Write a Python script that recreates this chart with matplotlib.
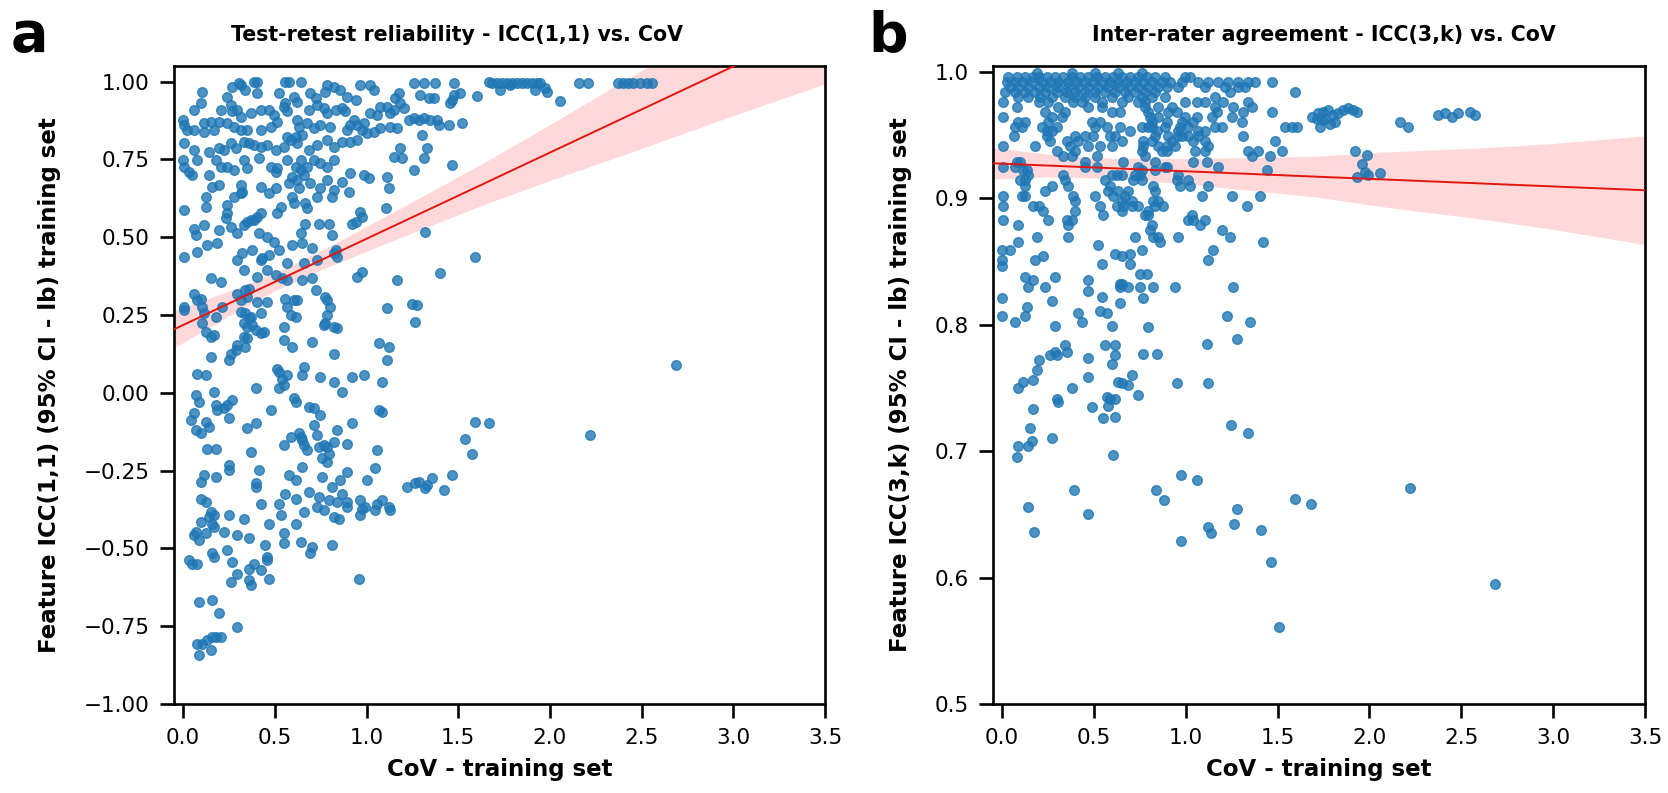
import matplotlib
matplotlib.use("Agg")
import matplotlib.pyplot as plt
import numpy as np

# panel a: CoV vs ICC(1,1) lower bound
cov_a = [0.104, 0.268, 0.304, 0.313, 0.386, 0.404, 0.404, 0.558, 0.576, 0.640, 0.522, 0.340, 0.785, 0.822, 0.858, 0.967, 1.021, 1.040, 0.776, 0.694, 0.722, 1.257, 1.312, 1.375, 1.475, 1.666, 1.475, 1.511, 1.602, 1.176, 1.157, 1.294, 1.339, 1.366, 0.894, 0.940, 0.604, 0.622, 0.241, 0.095, 0.059,
         0.000, 0.005, 0.023, 0.059, 0.113, 0.150, 0.195, 0.204, 0.259, 0.268, 0.295, 0.313, 0.368, 0.422, 0.468, 0.495, 0.549, 0.558, 0.567, 0.622, 0.631, 0.685, 0.731, 0.767, 0.785, 0.831, 0.867, 0.885, 0.930, 0.985, 1.021, 1.058, 1.076, 1.112, 1.130, 1.148, 1.185, 1.203, 1.230, 1.257, 1.284, 1.312, 1.348, 1.384, 1.393, 1.448, 1.521, 1.457, 1.466, 0.976, 1.003, 1.040, 1.076, 1.130, 1.166, 0.894, 0.912, 0.949, 0.803, 0.749, 0.713, 0.676, 0.513, 0.477, 0.422, 0.350, 0.313, 0.241, 0.277, 0.168, 0.113, 1.303, 1.185, 1.148, 1.194, 1.312, 1.330, 1.257, 1.466,
         0.005, 0.059, 0.141, 0.195, 0.222, 0.259, 0.286, 0.331, 0.359, 0.386, 0.422, 0.459, 0.504, 0.549, 0.586, 0.622, 0.649, 0.685, 0.731, 0.785, 0.822, 0.867, 0.912, 0.949, 0.613, 0.567,
         0.000, 0.005, 0.032, 0.050, 0.077, 0.141, 0.177, 0.204, 0.241, 0.277, 0.331, 0.350, 0.413, 0.477, 0.513, 0.504, 0.567, 0.613, 0.640, 0.676, 0.713, 0.749, 0.785, 0.822, 0.640, 0.658, 0.595, 0.576, 0.622, 0.631, 0.694, 0.749, 0.785, 0.822, 0.867, 0.912, 0.985, 1.012, 1.112, 1.121, 0.903, 0.595, 0.504, 0.468, 0.422, 0.313, 0.322, 0.277, 0.195, 0.159, 0.123,
         0.005, 0.123, 0.241, 0.241, 0.232, 0.313, 0.386, 0.404, 0.422, 0.331, 0.295, 0.513, 0.531, 0.604, 0.667, 0.676, 0.731, 0.812, 0.967, 0.976, 0.940, 1.108, 0.059, 0.068, 0.113, 0.195, 0.259, 0.368, 0.350, 0.667, 0.740, 0.794, 0.812, 0.921,
         0.005, 0.077, 0.132, 0.186, 0.295, 0.322, 0.377, 0.413, 0.459, 0.495, 0.522, 0.422, 0.431, 0.468, 0.595, 0.640, 0.649, 0.567, 0.658, 0.704, 0.731, 0.831, 0.840, 0.822, 0.949, 0.976, 1.166, 1.321, 1.402, 1.593, 0.331,
         0.150, 0.204, 0.059, 0.095, 0.077, 0.104, 0.113, 0.005, 0.005, 0.295, 0.340, 0.359, 0.350, 0.313, 0.404, 0.459, 0.504, 0.540, 0.567, 0.649, 0.704, 0.722, 0.776, 0.785, 0.803, 0.604, 0.622, 0.558, 0.567, 0.404, 0.459, 0.213, 0.177, 0.313, 0.340, 0.359, 0.368, 0.422, 0.586, 0.613, 0.785, 0.776, 0.822, 0.840, 1.112, 1.248, 1.275, 1.266,
         0.104, 0.123, 0.150, 0.168, 0.331, 0.350, 0.377, 0.395, 0.331, 0.422, 0.440, 0.549, 0.549, 0.595, 0.704, 0.767, 0.822, 0.340, 0.350, 0.295, 0.286, 0.259, 0.250, 0.150, 0.077, 0.123, 0.513, 0.522, 0.540, 0.567, 0.658, 0.649, 0.749, 0.822, 0.921, 0.985, 1.067, 1.121, 1.112, 1.085, 0.522, 0.549, 0.395,
         0.168, 0.068, 0.086, 0.041, 0.059, 0.068, 0.095, 0.123, 0.141, 0.177, 0.186, 0.222, 0.241, 0.268, 0.250, 0.350, 0.395, 0.477, 0.604, 0.613, 0.685, 0.713, 0.749, 0.713, 0.631, 0.649, 0.658, 0.676, 0.586, 0.549, 0.640, 0.731, 0.740, 0.767, 0.785, 0.794, 0.758, 0.785, 0.822, 0.840, 0.894, 0.921, 0.867, 1.067, 1.085, 1.058, 1.048, 1.003,
         0.132, 0.177, 0.368, 0.250, 0.250, 0.113, 0.095, 0.180, 0.395, 0.395, 0.413, 0.576, 0.613, 0.649, 0.758, 0.812, 0.858, 0.894, 0.558, 0.613, 0.685, 0.740, 0.794, 0.840, 0.867, 0.894, 0.894, 0.967, 0.976, 0.967, 0.994, 1.058, 1.085, 1.121, 1.130, 1.048, 0.731, 0.767, 0.822, 0.849, 0.658, 0.613, 0.531, 0.522, 0.468, 0.422,
         0.095, 0.123, 0.150, 0.141, 0.168, 0.168, 0.159, 0.095, 0.068, 0.059, 0.086, 0.123, 0.222, 0.250, 0.331, 0.295, 0.359, 0.449, 0.549, 0.549, 0.640, 0.704, 0.694, 0.812, 0.159, 0.168, 0.241, 0.268, 0.295, 0.259, 0.359, 0.386, 0.422, 0.359, 0.368, 0.459, 0.459, 0.468, 0.032, 0.050, 0.077, 0.958,
         0.086, 0.159, 0.195, 0.295, 0.077, 0.104, 0.132, 0.159, 0.177, 0.204, 0.150, 0.086,
         1.221, 1.266, 1.284, 1.321, 1.330, 1.357, 1.421, 1.466, 1.539, 1.575, 1.593, 1.666, 2.219,
         1.684, 1.711, 1.738, 1.765, 1.792, 1.820, 1.847, 1.874, 1.901, 1.929, 1.947, 1.729, 1.783, 1.920, 1.974, 1.983, 2.056, 2.156, 2.210, 2.373, 2.401, 2.428, 2.455, 2.491, 2.528, 2.555, 2.688]
icc_a = [0.968, 0.984, 0.997, 0.989, 1.000, 1.000, 0.962, 1.000, 1.000, 1.000, 0.962, 0.973, 0.989, 0.984, 0.973, 0.989, 0.989, 0.973, 0.968, 0.962, 0.946, 0.997, 0.997, 0.997, 0.997, 1.000, 0.957, 0.962, 0.954, 0.962, 0.946, 0.957, 0.946, 0.946, 0.952, 0.941, 0.952, 0.936, 0.952, 0.930, 0.909,
         0.877, 0.861, 0.845, 0.845, 0.866, 0.871, 0.871, 0.909, 0.925, 0.904, 0.909, 0.887, 0.898, 0.909, 0.909, 0.893, 0.920, 0.930, 0.904, 0.877, 0.855, 0.909, 0.925, 0.914, 0.898, 0.909, 0.914, 0.904, 0.877, 0.866, 0.898, 0.893, 0.920, 0.920, 0.898, 0.909, 0.930, 0.914, 0.877, 0.882, 0.877, 0.882, 0.877, 0.877, 0.861, 0.861, 0.866, 0.930, 0.941, 0.845, 0.834, 0.839, 0.850, 0.855, 0.850, 0.845, 0.861, 0.861, 0.855, 0.861, 0.850, 0.866, 0.871, 0.855, 0.845, 0.845, 0.845, 0.866, 0.855, 0.845, 0.839, 0.829, 0.786, 0.759, 0.753, 0.753, 0.786, 0.716, 0.732,
         0.802, 0.780, 0.775, 0.786, 0.780, 0.802, 0.786, 0.807, 0.802, 0.796, 0.791, 0.796, 0.780, 0.791, 0.812, 0.802, 0.829, 0.780, 0.796, 0.812, 0.791, 0.807, 0.807, 0.812, 0.823, 0.823,
         0.748, 0.727, 0.711, 0.700, 0.748, 0.700, 0.748, 0.727, 0.727, 0.716, 0.748, 0.721, 0.753, 0.727, 0.721, 0.711, 0.748, 0.727, 0.748, 0.727, 0.748, 0.737, 0.727, 0.748, 0.716, 0.700, 0.695, 0.673, 0.684, 0.657, 0.673, 0.657, 0.684, 0.652, 0.678, 0.705, 0.700, 0.689, 0.695, 0.657, 0.646, 0.630, 0.657, 0.641, 0.662, 0.668, 0.646, 0.630, 0.668, 0.662, 0.630,
         0.587, 0.598, 0.603, 0.577, 0.561, 0.641, 0.555, 0.566, 0.577, 0.539, 0.512, 0.577, 0.598, 0.609, 0.609, 0.593, 0.630, 0.630, 0.582, 0.566, 0.550, 0.593, 0.528, 0.507, 0.539, 0.523, 0.534, 0.555, 0.550, 0.544, 0.544, 0.544, 0.507, 0.544,
         0.437, 0.453, 0.475, 0.480, 0.427, 0.448, 0.459, 0.512, 0.502, 0.486, 0.459, 0.427, 0.432, 0.443, 0.475, 0.512, 0.480, 0.416, 0.416, 0.464, 0.427, 0.459, 0.437, 0.448, 0.373, 0.389, 0.362, 0.518, 0.384, 0.437, 0.394,
         0.368, 0.357, 0.319, 0.303, 0.298, 0.276, 0.255, 0.276, 0.266, 0.319, 0.330, 0.335, 0.309, 0.298, 0.373, 0.394, 0.378, 0.368, 0.362, 0.362, 0.368, 0.330, 0.309, 0.298, 0.276, 0.298, 0.298, 0.303, 0.276, 0.293, 0.293, 0.276, 0.244, 0.260, 0.255, 0.239, 0.244, 0.255, 0.250, 0.244, 0.250, 0.223, 0.212, 0.207, 0.271, 0.287, 0.282, 0.228,
         0.223, 0.196, 0.180, 0.185, 0.223, 0.212, 0.218, 0.202, 0.180, 0.191, 0.196, 0.212, 0.169, 0.148, 0.164, 0.218, 0.126, 0.148, 0.175, 0.153, 0.137, 0.126, 0.105, 0.116, 0.062, 0.057, 0.078, 0.068, 0.046, 0.057, 0.084, 0.057, 0.051, 0.035, 0.051, 0.057, 0.159, 0.148, 0.105, 0.035, 0.014, 0.025, 0.014,
         0.003, -0.007, -0.029, -0.088, -0.066, -0.120, -0.130, -0.093, -0.109, -0.039, -0.055, -0.050, -0.039, -0.023, -0.082, -0.114, -0.098, -0.055, -0.018, -0.029, -0.045, -0.050, -0.071, -0.104, -0.130, -0.152, -0.168, -0.184, -0.141, -0.168, -0.141, -0.136, -0.173, -0.168, -0.173, -0.195, -0.211, -0.222, -0.157, -0.120, -0.163, -0.098, 0.003, -0.055, -0.061, -0.184, -0.243, -0.281,
         -0.179, -0.179, -0.189, -0.232, -0.248, -0.265, -0.286, -0.270, -0.291, -0.302, -0.248, -0.265, -0.281, -0.238, -0.270, -0.302, -0.281, -0.254, -0.324, -0.340, -0.318, -0.334, -0.345, -0.350, -0.324, -0.350, -0.366, -0.345, -0.372, -0.393, -0.366, -0.356, -0.345, -0.366, -0.377, -0.377, -0.366, -0.377, -0.399, -0.404, -0.382, -0.420, -0.393, -0.356, -0.420, -0.356,
         -0.340, -0.350, -0.382, -0.399, -0.393, -0.431, -0.420, -0.415, -0.447, -0.458, -0.474, -0.452, -0.447, -0.393, -0.404, -0.458, -0.468, -0.490, -0.452, -0.484, -0.479, -0.495, -0.516, -0.490, -0.516, -0.527, -0.506, -0.543, -0.581, -0.608, -0.565, -0.549, -0.570, -0.602, -0.618, -0.538, -0.527, -0.597, -0.538, -0.549, -0.549, -0.597,
         -0.672, -0.666, -0.709, -0.752, -0.806, -0.806, -0.795, -0.784, -0.784, -0.784, -0.827, -0.843,
         -0.302, -0.291, -0.286, -0.307, -0.297, -0.275, -0.313, -0.265, -0.147, -0.195, -0.093, -0.098, -0.136,
         0.997, 0.997, 0.997, 0.997, 0.997, 0.997, 0.997, 0.997, 0.997, 0.997, 0.997, 0.973, 0.989, 0.973, 0.979, 0.968, 0.938, 0.997, 0.995, 0.997, 0.997, 0.997, 0.997, 0.997, 0.997, 0.997, 0.089]

# panel b: CoV vs ICC(3,k) lower bound
cov_b = [0.034, 0.080, 0.125, 0.170, 0.198, 0.243, 0.288, 0.334, 0.379, 0.424, 0.470, 0.515, 0.560, 0.606, 0.651, 0.696, 0.742, 0.787, 0.832, 0.887, 0.996, 1.023,
         0.189, 0.379, 0.506, 0.633, 0.760,
         0.025, 0.071, 0.116, 0.161, 0.216, 0.261, 0.306, 0.361, 0.406, 0.452, 0.497, 0.542, 0.588, 0.633, 0.678, 0.724, 0.769, 0.814, 0.869, 0.914, 0.978, 1.068, 1.123, 1.177, 1.231, 1.286, 1.340, 1.377, 1.467,
         0.044, 0.089, 0.143, 0.198, 0.252, 0.306, 0.361, 0.415, 0.470, 0.524, 0.579, 0.633, 0.687, 0.742, 0.796, 0.851, 0.896, 0.959, 1.104, 1.213, 1.286, 1.322,
         0.016, 0.071, 0.125, 0.180, 0.234, 0.297, 0.352, 0.397, 0.452, 0.506, 0.560, 0.615, 0.669, 0.724, 0.778, 0.832, 1.241, 1.594,
         0.089, 0.143, 0.207, 0.270, 0.343, 0.397, 0.452, 0.506, 0.597, 0.687, 0.760, 0.814, 0.887, 1.159,
         0.007, 0.198, 0.252, 0.388, 0.433, 0.542, 0.651, 0.742, 0.778, 0.996, 1.059, 1.104, 1.204, 1.340,
         0.080, 0.306, 0.470, 0.542, 0.778, 0.851, 0.923, 1.159, 1.259, 1.358,
         0.234, 0.343, 0.597, 0.642, 0.796, 0.905, 0.950, 1.168, 1.313, 1.467,
         0.007, 0.270, 0.325, 0.805, 0.851, 0.996, 1.059, 1.141, 1.250, 1.685,
         0.089, 0.125, 0.252, 0.488, 0.533, 0.814, 0.896, 0.978, 1.041, 1.304,
         0.071, 0.107, 0.216, 0.297, 0.506, 0.569, 0.642, 0.760, 0.796, 0.814, 0.887, 0.968, 1.014, 1.159, 1.195, 1.540, 1.576, 1.603,
         0.243, 0.270, 0.696, 0.842, 0.959, 1.068, 1.104,
         0.062, 0.243, 0.397, 0.452, 0.497, 0.588, 0.615, 0.832, 0.905, 0.959, 0.978, 1.014, 1.068, 1.313,
         0.261, 0.352, 0.415, 0.651, 0.769, 0.814, 0.923, 1.041, 1.104, 1.485,
         0.007, 0.180, 0.370, 0.470, 0.533, 0.597, 0.769, 0.851, 0.896, 0.941, 1.123,
         0.297, 0.397, 0.760, 0.869, 0.896, 1.050, 1.104, 1.340, 1.395, 1.522,
         0.334, 0.379, 0.515, 0.778, 1.358, 1.458,
         0.080, 0.098, 0.452, 0.660, 0.832, 1.041, 1.114,
         0.007, 0.071, 0.452, 0.515, 0.742, 0.887, 0.896, 1.177,
         0.116, 0.134, 0.760, 0.832, 1.440,
         0.143, 0.334, 0.597, 0.624, 0.651, 0.724, 0.751, 0.959,
         0.098, 0.125, 0.343, 0.560, 0.715, 0.760, 0.950, 1.014,
         0.125, 0.270, 0.361, 0.588, 0.823, 0.968, 1.023, 1.123,
         0.234, 0.579, 0.633, 0.687, 0.832,
         0.007, 0.107, 0.125, 0.388, 0.506, 0.606, 0.669, 1.086, 1.250, 1.404,
         0.397, 0.651, 0.705, 0.823, 0.851,
         0.007, 0.170, 0.198, 0.533, 0.624, 0.660, 0.705, 0.742, 0.832, 0.878, 1.331,
         0.225, 0.397, 0.651, 0.796,
         0.551, 0.778, 0.796, 1.032,
         0.007, 0.252, 0.352, 0.379, 1.014, 1.041, 1.104,
         0.089, 0.361, 0.814, 1.077,
         0.805, 1.195,
         0.189, 0.361, 0.724, 0.823, 0.851, 0.959, 1.241,
         0.089, 0.860, 1.422, 0.524,
         0.000, 0.044, 0.760, 1.150, 0.615, 0.696, 0.225, 0.651, 0.000, 0.180, 1.123, 0.542, 0.696, 0.000,
         0.751, 0.787, 0.125, 0.288, 0.170, 0.470, 0.642, 0.651,
         0.143, 0.234, 0.642, 0.687, 0.751, 0.823, 0.941, 1.259,
         0.470, 0.542, 0.000, 0.769, 0.270, 0.642, 0.134, 0.533, 0.415, 0.569, 0.000, 0.125, 1.222, 0.071, 0.433, 1.349, 0.288, 0.597, 0.796,
         1.277, 1.114, 0.343, 0.560, 0.615, 0.288, 0.352, 0.769, 0.842, 0.261, 0.297, 0.615, 0.470, 0.198, 0.597, 0.189, 0.705, 0.470, 0.170, 0.116, 0.633, 0.651, 0.950, 1.123, 0.687, 0.089, 0.379,
         1.721, 1.748, 1.776, 1.803, 1.830, 1.857, 1.884, 1.912, 1.930, 1.730, 1.757, 1.785, 1.812, 1.739, 1.712,
         2.165, 2.211, 2.374, 2.410, 2.447, 2.483, 2.546, 2.574, 1.921, 1.984, 1.957, 1.975, 1.930, 1.993, 2.057,
         0.297, 0.306, 0.170, 0.488, 0.569, 0.588, 0.615, 0.579, 0.551, 0.615, 0.742, 0.152, 0.161, 0.143, 0.089, 0.083, 0.270, 0.606,
         1.246, 1.337, 0.974, 1.059, 0.836, 0.883, 0.392, 0.140, 0.466, 0.176, 1.280, 1.119, 1.135, 1.264, 0.974, 1.409, 1.462, 1.509,
         1.594, 1.681, 2.220, 2.684]
icc_b = [0.996, 0.996, 0.996, 0.996, 0.996, 0.996, 0.996, 0.996, 0.996, 0.996, 0.996, 0.996, 0.996, 0.996, 0.996, 0.996, 0.996, 0.996, 0.996, 0.996, 0.996, 0.996,
         0.999, 0.999, 0.999, 0.999, 0.999,
         0.992, 0.992, 0.992, 0.992, 0.992, 0.992, 0.992, 0.992, 0.992, 0.992, 0.992, 0.992, 0.992, 0.992, 0.992, 0.992, 0.992, 0.992, 0.992, 0.992, 0.992, 0.992, 0.992, 0.992, 0.992, 0.992, 0.992, 0.992, 0.992,
         0.988, 0.988, 0.988, 0.988, 0.988, 0.988, 0.988, 0.988, 0.988, 0.988, 0.988, 0.988, 0.988, 0.988, 0.988, 0.988, 0.988, 0.988, 0.988, 0.988, 0.988, 0.988,
         0.984, 0.984, 0.984, 0.984, 0.984, 0.984, 0.984, 0.984, 0.984, 0.984, 0.984, 0.984, 0.984, 0.984, 0.984, 0.984, 0.984, 0.984,
         0.980, 0.980, 0.980, 0.980, 0.980, 0.980, 0.980, 0.980, 0.980, 0.980, 0.980, 0.980, 0.980, 0.980,
         0.976, 0.976, 0.976, 0.976, 0.976, 0.976, 0.976, 0.976, 0.976, 0.976, 0.976, 0.976, 0.976, 0.976,
         0.972, 0.972, 0.972, 0.972, 0.972, 0.972, 0.972, 0.972, 0.972, 0.972,
         0.968, 0.968, 0.968, 0.968, 0.968, 0.968, 0.968, 0.968, 0.968, 0.968,
         0.964, 0.964, 0.964, 0.964, 0.964, 0.964, 0.964, 0.964, 0.964, 0.964,
         0.960, 0.960, 0.960, 0.960, 0.960, 0.960, 0.960, 0.960, 0.960, 0.960,
         0.956, 0.956, 0.956, 0.956, 0.956, 0.956, 0.956, 0.956, 0.956, 0.956, 0.956, 0.956, 0.956, 0.956, 0.956, 0.956, 0.956, 0.956,
         0.953, 0.953, 0.953, 0.953, 0.953, 0.953, 0.953,
         0.949, 0.949, 0.949, 0.949, 0.949, 0.949, 0.949, 0.949, 0.949, 0.949, 0.949, 0.949, 0.949, 0.949,
         0.945, 0.945, 0.945, 0.945, 0.945, 0.945, 0.945, 0.945, 0.945, 0.945,
         0.941, 0.941, 0.941, 0.941, 0.941, 0.941, 0.941, 0.941, 0.941, 0.941, 0.941,
         0.937, 0.937, 0.937, 0.937, 0.937, 0.937, 0.937, 0.937, 0.937, 0.937,
         0.933, 0.933, 0.933, 0.933, 0.933, 0.933,
         0.929, 0.929, 0.929, 0.929, 0.929, 0.929, 0.929,
         0.925, 0.925, 0.925, 0.925, 0.925, 0.925, 0.925, 0.925,
         0.922, 0.922, 0.922, 0.922, 0.922,
         0.918, 0.918, 0.918, 0.918, 0.918, 0.918, 0.918, 0.918,
         0.914, 0.914, 0.914, 0.914, 0.914, 0.914, 0.914, 0.914,
         0.910, 0.910, 0.910, 0.910, 0.910, 0.910, 0.910, 0.910,
         0.906, 0.906, 0.906, 0.906, 0.906,
         0.902, 0.902, 0.902, 0.902, 0.902, 0.902, 0.902, 0.902, 0.902, 0.902,
         0.898, 0.898, 0.898, 0.898, 0.898,
         0.894, 0.894, 0.894, 0.894, 0.894, 0.894, 0.894, 0.894, 0.894, 0.894, 0.894,
         0.890, 0.890, 0.890, 0.890,
         0.887, 0.887, 0.887, 0.887,
         0.883, 0.883, 0.883, 0.883, 0.883, 0.883, 0.883,
         0.879, 0.879, 0.879, 0.879,
         0.875, 0.875,
         0.869, 0.869, 0.869, 0.869, 0.869, 0.869, 0.869,
         0.865, 0.865, 0.865, 0.863,
         0.859, 0.859, 0.859, 0.859, 0.856, 0.856, 0.854, 0.854, 0.851, 0.851, 0.851, 0.848, 0.848, 0.846,
         0.840, 0.840, 0.838, 0.838, 0.835, 0.835, 0.832, 0.832,
         0.830, 0.830, 0.830, 0.830, 0.830, 0.830, 0.830, 0.830,
         0.827, 0.822, 0.821, 0.821, 0.819, 0.817, 0.814, 0.811, 0.809, 0.809, 0.807, 0.807, 0.807, 0.802, 0.802, 0.802, 0.799, 0.799, 0.798,
         0.789, 0.785, 0.784, 0.784, 0.784, 0.778, 0.778, 0.777, 0.777, 0.776, 0.776, 0.776, 0.774, 0.772, 0.769, 0.764, 0.760, 0.759, 0.756, 0.755, 0.755, 0.754, 0.754, 0.754, 0.752, 0.750, 0.750,
         0.967, 0.968, 0.970, 0.966, 0.967, 0.970, 0.971, 0.970, 0.968, 0.956, 0.963, 0.959, 0.960, 0.962, 0.963,
         0.960, 0.956, 0.966, 0.967, 0.964, 0.967, 0.968, 0.966, 0.937, 0.934, 0.927, 0.921, 0.917, 0.918, 0.920,
         0.741, 0.739, 0.733, 0.735, 0.743, 0.741, 0.741, 0.736, 0.726, 0.727, 0.744, 0.718, 0.708, 0.704, 0.704, 0.695, 0.710, 0.697,
         0.721, 0.714, 0.681, 0.677, 0.669, 0.661, 0.669, 0.656, 0.650, 0.636, 0.654, 0.640, 0.635, 0.642, 0.629, 0.638, 0.612, 0.561,
         0.662, 0.658, 0.671, 0.595]

fit_a = (0.218, 0.277)
band_a_x = [-0.05, 0.25, 0.5, 0.75, 1.0, 1.25, 1.65, 2.0, 2.45, 3.0, 3.5]
band_a_half = [0.060, 0.040, 0.029, 0.031, 0.040, 0.050, 0.068, 0.090, 0.122, 0.158, 0.195]
fit_b = (0.9273, -0.006)
band_b_x = [-0.05, 0.25, 0.6, 1.0, 1.7, 2.1, 2.6, 3.0, 3.5]
band_b_half = [0.0125, 0.009, 0.008, 0.010, 0.016, 0.022, 0.028, 0.034, 0.043]

x_ticks = [0.0, 0.5, 1.0, 1.5, 2.0, 2.5, 3.0, 3.5]
y_ticks_a = [-1.00, -0.75, -0.50, -0.25, 0.00, 0.25, 0.50, 0.75, 1.00]
y_ticks_b = [0.5, 0.6, 0.7, 0.8, 0.9, 1.0]

plt.rcParams['font.family'] = ['DejaVu Sans']

fig = plt.figure(figsize=(16.68, 7.93), dpi=100)
ax_a = fig.add_axes([0.1043, 0.1122, 0.3903, 0.8045])
ax_b = fig.add_axes([0.5953, 0.1122, 0.3909, 0.8045])


def fmtTick(fmt, v):
    # real minus sign, like matplotlib's own formatter
    return (fmt % v).replace("-", "\u2212")


def drawPanel(ax, cov, icc, fit, bx, bhalf, xlim, ylim, yticks, yfmt, title, titleX, ylabel, ylabelPad):
    '''
    Scatter of features plus the regression line and its confidence band.
    '''
    ax.scatter(cov, icc, s=48, color="#1f77b4", alpha=0.8, linewidths=1.0, zorder=2)
    bx = np.array(bx)
    line = fit[0] + fit[1] * bx
    ax.fill_between(bx, line - np.array(bhalf), line + np.array(bhalf), color="red", alpha=0.15, lw=0, zorder=1)
    lx = np.array(xlim)
    ax.plot(lx, fit[0] + fit[1] * lx, c="#e3160f", lw=1.4, zorder=3)

    ax.set_xlim(*xlim)
    ax.set_ylim(*ylim)
    ax.set_xticks(x_ticks)
    ax.set_xticklabels([fmtTick("%.1f", v) for v in x_ticks])
    ax.set_yticks(yticks)
    ax.set_yticklabels([fmtTick(yfmt, v) for v in yticks])
    ax.tick_params(direction="out", length=10, width=1.9, labelsize=15.5, pad=7.5)
    for sp in ax.spines.values():
        sp.set_linewidth(1.9)
    ax.set_title(title, fontsize=14.8, fontweight="bold", pad=18, x=titleX)
    ax.set_xlabel("CoV - training set", fontsize=16.5, fontweight="bold", labelpad=7)
    ax.set_ylabel(ylabel, fontsize=16.5, fontweight="bold", labelpad=ylabelPad)


drawPanel(ax_a, cov_a, icc_a, fit_a, band_a_x, band_a_half, (-0.05, 3.5), (-1.0, 1.05),
          y_ticks_a, "%.2f", "Test-retest reliability - ICC(1,1) vs. CoV", 0.435,
          "Feature ICC(1,1) (95% CI - lb) training set", 16)
drawPanel(ax_b, cov_b, icc_b, fit_b, band_b_x, band_b_half, (-0.05, 3.5), (0.5, 1.0045),
          y_ticks_b, "%.1f", "Inter-rater agreement - ICC(3,k) vs. CoV", 0.508,
          "Feature ICC(3,k) (95% CI - lb) training set", 16)

fig.text(0.0066, 0.955, "a", fontsize=40, fontweight="bold", va="center", ha="left")
fig.text(0.5205, 0.955, "b", fontsize=40, fontweight="bold", va="center", ha="left")

plt.savefig("out.png", dpi=100)
